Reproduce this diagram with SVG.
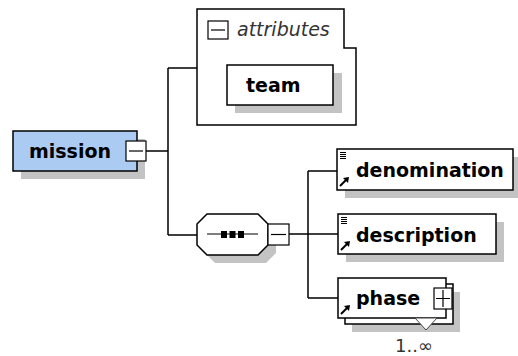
<svg xmlns="http://www.w3.org/2000/svg" xmlns:xlink="http://www.w3.org/1999/xlink" width="518" height="356" viewBox="0 0 518 356">
<style>
.box{fill:#fff;stroke:#000;stroke-width:1.5}
.shadow{fill:#c3c3c3}
.conn{fill:none;stroke:#000;stroke-width:1.5}
.btn{fill:#fff;stroke:#000;stroke-width:1.2}
.btnline{fill:none;stroke:#000;stroke-width:1.2}
.lbl{font-family:"DejaVu Sans",Verdana,sans-serif;font-weight:bold;font-size:19px;fill:#000}
.attr{font-family:"DejaVu Sans",Verdana,sans-serif;font-style:italic;font-size:19px;fill:#333}
.card{font-family:"DejaVu Sans",Verdana,sans-serif;font-size:18px;fill:#333}
</style>
<defs>
<g id="lines-icon">
<path d="M0 0.5H6M0 2.5H6M0 4.5H6M0 6.5H6" stroke="#000" stroke-width="1" fill="none"/>
</g>
<g id="ref-icon">
<path d="M0 9L6 3" stroke="#000" stroke-width="2" fill="none"/>
<polygon points="3,1 9,0 8,6" fill="#000"/>
</g>
</defs>

<g id="connectors">
<path class="conn" d="M146 151H168M168 68V235M168 68H197M168 235H197"/>
<path class="conn" d="M289 234H308M308 171V298M308 171H337M308 234H338M308 298H338"/>
</g>

<g id="mission">
<rect class="shadow" x="21" y="139" width="124" height="40"/>
<rect x="13" y="131" width="124" height="40" fill="#abcbf3" stroke="#000" stroke-width="1.5"/>
<text class="lbl" x="29" y="158">mission</text>
<rect class="btn" x="126" y="141" width="20" height="20"/>
<path class="btnline" d="M129 151H143"/>
</g>

<g id="attributes">
<polygon class="box" stroke-width="1.2" points="197,9 344,9 344,48 356,48 356,125 197,125"/>
<rect class="btn" x="208" y="21" width="20" height="18"/>
<path class="btnline" d="M211 30H225"/>
<text class="attr" x="237" y="36">attributes</text>
</g>

<g id="team">
<rect class="shadow" x="235" y="73" width="107" height="40"/>
<rect class="box" x="227" y="65" width="106" height="40"/>
<text class="lbl" x="246" y="92">team</text>
</g>

<g id="sequence">
<polygon class="shadow" points="215,222 266,222 276,232 276,253 266,263 215,263 205,253 205,232"/>
<polygon class="box" points="207,214 258,214 268,224 268,245 258,255 207,255 197,245 197,224"/>
<path class="btnline" d="M207 234H258"/>
<rect x="221" y="231" width="6" height="7" fill="#000"/>
<rect x="229.5" y="231" width="6" height="7" fill="#000"/>
<rect x="238" y="231" width="6" height="7" fill="#000"/>
<rect class="btn" x="268" y="224" width="21" height="21"/>
<path class="btnline" d="M271 234.5H286"/>
</g>

<g id="denomination">
<rect class="shadow" x="345" y="157" width="176" height="41"/>
<rect class="box" x="337" y="149" width="176" height="41"/>
<use xlink:href="#lines-icon" x="340" y="152"/>
<use xlink:href="#ref-icon" x="340" y="177"/>
<text class="lbl" x="356" y="177">denomination</text>
</g>

<g id="description">
<rect class="shadow" x="346" y="222" width="158" height="40"/>
<rect class="box" x="338" y="214" width="158" height="40"/>
<use xlink:href="#lines-icon" x="341" y="217"/>
<use xlink:href="#ref-icon" x="341" y="241"/>
<text class="lbl" x="356" y="242">description</text>
</g>

<g id="phase">
<rect class="shadow" x="352" y="292" width="108" height="40"/>
<rect class="box" stroke-width="1.2" x="345" y="284" width="108" height="40"/>
<rect class="box" x="338" y="278" width="108" height="40"/>
<polygon points="415,318 426,330 437,318" fill="#fff" stroke="#444" stroke-width="1"/>
<use xlink:href="#ref-icon" x="341" y="305"/>
<text class="lbl" x="356" y="305">phase</text>
<rect class="btn" x="434" y="288" width="18" height="21"/>
<path class="btnline" d="M436 298.5H450M443 290V307"/>
<text class="card" x="414" y="352" text-anchor="middle">1..∞</text>
</g>
</svg>
